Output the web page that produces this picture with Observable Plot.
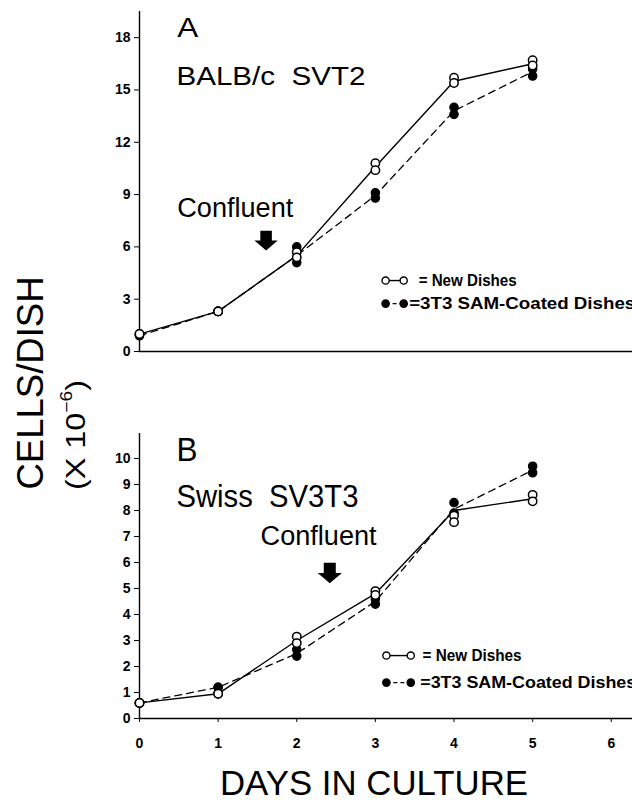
<!DOCTYPE html>
<html>
<head>
<meta charset="utf-8">
<script src="https://cdn.jsdelivr.net/npm/d3@7"></script>
<script src="https://cdn.jsdelivr.net/npm/@observablehq/plot@0.6"></script>
<style>
  html, body { margin: 0; padding: 0; background: white; }
  #wrap { position: relative; width: 632px; height: 802px; overflow: hidden; background: white; }
  #wrap > * { position: absolute; left: 0; }
</style>
</head>
<body>
<div id="wrap"></div>
<script>
// ---- data ----
const days = [0, 1, 2, 3, 4, 5];
const xTicks = [0, 1, 2, 3, 4, 5, 6];
const yTicksA = [0, 3, 6, 9, 12, 15, 18];
const yTicksB = [0, 1, 2, 3, 4, 5, 6, 7, 8, 9, 10];

// Panel A: BALB/c SVT2 (replicate dishes and connecting line)
const aNewRep1 = [1.0, 2.3, 5.7, 10.8, 15.7, 16.7];
const aNewRep2 = [1.0, 2.3, 5.4, 10.4, 15.4, 16.4];
const aSamRep1 = [0.95, 2.3, 6.0, 9.1, 14.0, 16.2];
const aSamRep2 = [0.9, 2.3, 5.1, 8.8, 13.6, 15.8];
const aNewLine = [1.0, 2.3, 5.5, 10.6, 15.5, 16.5];
const aSamLine = [0.9, 2.3, 5.5, 8.95, 13.8, 16.05];

// Panel B: Swiss SV3T3
const bNewRep1 = [0.6, 0.95, 3.15, 4.9, 7.8, 8.6];
const bNewRep2 = [0.6, 0.95, 2.9, 4.75, 7.55, 8.35];
const bSamRep1 = [0.6, 1.2, 2.65, 4.6, 8.3, 9.7];
const bSamRep2 = [0.6, 1.2, 2.4, 4.4, 7.9, 9.45];
const bNewLine = [0.6, 0.95, 3.0, 4.8, 8.0, 8.45];
const bSamLine = [0.6, 1.2, 2.5, 4.5, 8.05, 9.55];

const seriesNames = ["= New Dishes", "=3T3 SAM-Coated Dishes"];

// ---- helpers ----
const rows = (vals) => days.map((d, i) => ({day: d, cells: vals[i]}));
const FONT = "'Liberation Sans', Arial, Helvetica, sans-serif";

const blockArrow = {
  draw(ctx, size) {
    const r = Math.sqrt(size / Math.PI);
    const hw = r * 0.97, sw = r * 0.48, top = -r * 0.82, bot = r * 0.82, mid = 0;
    ctx.moveTo(-sw, top); ctx.lineTo(sw, top); ctx.lineTo(sw, mid);
    ctx.lineTo(hw, mid); ctx.lineTo(0, bot); ctx.lineTo(-hw, mid);
    ctx.lineTo(-sw, mid); ctx.closePath();
  }
};

function fitText(svg, specs) {
  d3.select(svg).selectAll("text").each(function () {
    const t = this.textContent;
    if (specs[t] != null) {
      this.setAttribute("textLength", specs[t]);
      this.setAttribute("lengthAdjust", "spacingAndGlyphs");
    }
  });
  d3.select(svg).selectAll('g[aria-label$="tick label"]')
    .attr("font-weight", "bold").attr("font-size", 14)
    .selectAll("text").attr("font-weight", "bold").attr("font-size", 14);
}

function panel(cfg) {
  const marks = [
    Plot.ruleX([0], {stroke: "black", strokeWidth: 1.4}),
    Plot.ruleY([0], {stroke: "black", strokeWidth: 1.4}),
    Plot.axisY({ticks: cfg.yTicks, tickSize: 5, tickPadding: 4, fontSize: 14, fontWeight: "bold", tickFormat: d3.format("d")}),
    Plot.line(rows(cfg.samLine), {x: "day", y: "cells", stroke: "black", strokeWidth: 1.3, strokeDasharray: "7,5"}),
    Plot.line(rows(cfg.newLine), {x: "day", y: "cells", stroke: "black", strokeWidth: 1.4}),
    Plot.dot([...rows(cfg.samRep1), ...rows(cfg.samRep2)], {x: "day", y: "cells", r: 4.2, fill: "black", stroke: "black", strokeWidth: 1.2}),
    Plot.dot([...rows(cfg.newRep1), ...rows(cfg.newRep2)], {x: "day", y: "cells", r: 4.2, fill: "white", stroke: "black", strokeWidth: 1.5}),
    // panel letter and cell line
    Plot.text([cfg.letter], {x: cfg.letterX, y: cfg.letterY, text: d => d, textAnchor: "start", fontSize: cfg.letterSize}),
    Plot.text([cfg.name], {x: cfg.nameX, y: cfg.nameY, text: d => d, textAnchor: "start", fontSize: cfg.nameSize}),
    // confluent annotation
    Plot.text(["Confluent"], {x: cfg.confX, y: cfg.confY, text: d => d, textAnchor: "start", fontSize: 27}),
    Plot.dot([{x: cfg.arrowX, y: cfg.arrowY}], {x: "x", y: "y", symbol: blockArrow, r: cfg.arrowR, fill: "black", stroke: "none"}),
    // legend
    Plot.link([{x1: cfg.legX1, x2: cfg.legX2, y: cfg.legY1}], {x1: "x1", x2: "x2", y1: "y", y2: "y", stroke: "black", strokeWidth: 1.4}),
    Plot.link([{x1: cfg.legX1, x2: cfg.legX2, y: cfg.legY2}], {x1: "x1", x2: "x2", y1: "y", y2: "y", stroke: "black", strokeWidth: 1.3, strokeDasharray: "4,3"}),
    Plot.dot([{x: cfg.legX1, y: cfg.legY1}, {x: cfg.legX2, y: cfg.legY1}], {x: "x", y: "y", r: 3.6, fill: "white", stroke: "black", strokeWidth: 1.4}),
    Plot.dot([{x: cfg.legX1, y: cfg.legY2}, {x: cfg.legX2, y: cfg.legY2}], {x: "x", y: "y", r: 3.6, fill: "black", stroke: "black"}),
    Plot.text([seriesNames[0]], {x: cfg.legT1, y: cfg.legY1, text: d => d, textAnchor: "start", fontSize: 16, fontWeight: "bold"}),
    Plot.text([seriesNames[1]], {x: cfg.legT2, y: cfg.legY2, text: d => d, textAnchor: "start", fontSize: 16, fontWeight: "bold"})
  ];
  if (cfg.xAxis) {
    marks.push(Plot.axisX({ticks: xTicks, tickSize: 4, tickPadding: 16, fontSize: 14, fontWeight: "bold", tickFormat: d3.format("d")}));
  }
  const svg = Plot.plot({
    width: 632,
    height: cfg.height,
    marginLeft: 139,
    marginRight: 0,
    marginTop: cfg.marginTop,
    marginBottom: cfg.marginBottom,
    style: {fontFamily: FONT, background: "white", color: "black", overflow: "visible"},
    x: {domain: [0, 6.27], axis: cfg.xAxis ? undefined : null},
    y: {domain: cfg.yDomain},
    marks
  });
  fitText(svg, cfg.fit);
  return svg;
}

const wrap = document.getElementById("wrap");

const plotA = panel({
  height: 370, marginTop: 11, marginBottom: 19, yDomain: [0, 19.5], yTicks: yTicksA, xAxis: false,
  newRep1: aNewRep1, newRep2: aNewRep2, samRep1: aSamRep1, samRep2: aSamRep2, newLine: aNewLine, samLine: aSamLine,
  letter: "A", letterX: 0.48, letterY: 18.55, letterSize: 28,
  name: "BALB/c  SVT2", nameX: 0.47, nameY: 15.75, nameSize: 25,
  confX: 0.48, confY: 8.2, arrowX: 1.61, arrowY: 6.36, arrowR: 12,
  legX1: 3.13, legX2: 3.36, legY1: 4.07, legY2: 2.75, legT1: 3.55, legT2: 3.43,
  fit: {"A": 21, "BALB/c  SVT2": 189, "Confluent": 116, "= New Dishes": 98, "=3T3 SAM-Coated Dishes": 226}
});
plotA.style.top = "0px";
wrap.appendChild(plotA);

const plotB = panel({
  height: 402, marginTop: 33, marginBottom: 84, yDomain: [0, 10.96], yTicks: yTicksB, xAxis: true,
  newRep1: bNewRep1, newRep2: bNewRep2, samRep1: bSamRep1, samRep2: bSamRep2, newLine: bNewLine, samLine: bSamLine,
  letter: "B", letterX: 0.47, letterY: 10.3, letterSize: 33,
  name: "Swiss  SV3T3", nameX: 0.47, nameY: 8.52, nameSize: 31,
  confX: 1.54, confY: 7.0, arrowX: 2.42, arrowY: 5.6, arrowR: 12.5,
  legX1: 3.14, legX2: 3.45, legY1: 2.42, legY2: 1.38, legT1: 3.6, legT2: 3.57,
  fit: {"B": 21, "Swiss  SV3T3": 182, "Confluent": 116, "= New Dishes": 99, "=3T3 SAM-Coated Dishes": 216}
});
plotB.style.top = "400px";
wrap.appendChild(plotB);

// axis titles overlay
const ov = d3.create("svg").attr("width", 632).attr("height", 802)
  .style("pointer-events", "none").style("top", "0px")
  .attr("font-family", FONT).attr("fill", "black");
ov.append("text")
  .attr("transform", "translate(30,383) rotate(-90)")
  .attr("text-anchor", "middle").attr("dominant-baseline", "central")
  .attr("font-size", 36).attr("textLength", 213).attr("lengthAdjust", "spacingAndGlyphs")
  .text("CELLS/DISH");
const sub = ov.append("text")
  .attr("transform", "translate(76,435) rotate(-90)")
  .attr("text-anchor", "middle").attr("dominant-baseline", "central")
  .attr("font-size", 27).attr("textLength", 110).attr("lengthAdjust", "spacingAndGlyphs");
sub.append("tspan").text("(X 10");
sub.append("tspan").attr("font-size", 16).attr("dy", -10).text("−6");
sub.append("tspan").attr("dy", 10).text(")");
ov.append("text")
  .attr("x", 374).attr("y", 782)
  .attr("text-anchor", "middle").attr("dominant-baseline", "central")
  .attr("font-size", 35).attr("textLength", 308).attr("lengthAdjust", "spacingAndGlyphs")
  .text("DAYS IN CULTURE");
wrap.appendChild(ov.node());
</script>
</body>
</html>
